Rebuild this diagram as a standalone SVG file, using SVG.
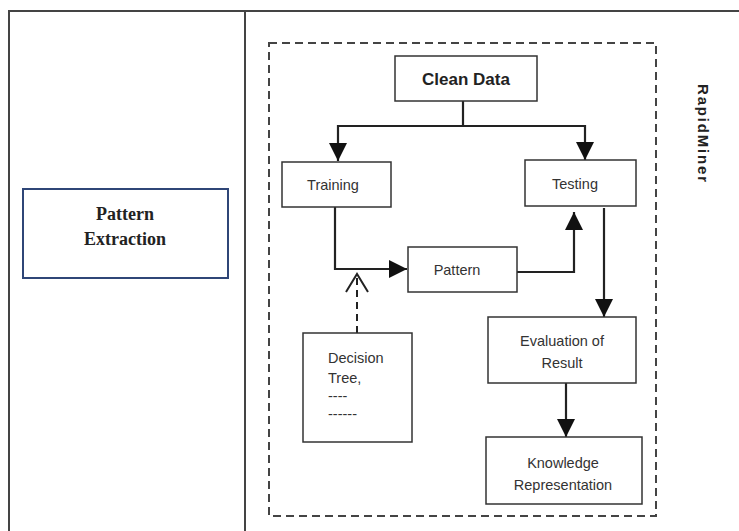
<svg xmlns="http://www.w3.org/2000/svg" width="739" height="531" viewBox="0 0 739 531">
<style>
.frame{stroke:#444;stroke-width:2;fill:none}
.box{fill:#fff;stroke:#333;stroke-width:1.5}
.conn{fill:none;stroke:#222;stroke-width:2.2}
.t{font-family:"Liberation Sans",Arial,sans-serif;font-size:14.5px;fill:#333;text-anchor:middle}
.ts{font-family:"Liberation Sans",Arial,sans-serif;font-size:14.5px;fill:#333}
</style>
<defs>
<marker id="ah" markerUnits="userSpaceOnUse" markerWidth="20" markerHeight="20" refX="18" refY="9" orient="auto">
<path d="M0,0 L18,9 L0,18 Z" fill="#111"/>
</marker>
</defs>
<rect width="739" height="531" fill="#fff"/>
<g id="frame">
<path class="frame" d="M9,531 V11 H739 M245,11 V531"/>
</g>
<g id="pattern-extraction">
<rect x="23" y="189" width="205" height="89" fill="#fff" stroke="#2f4677" stroke-width="2"/>
<text x="125" y="220" font-family="'Liberation Serif','Times New Roman',serif" font-size="18" font-weight="bold" text-anchor="middle" fill="#222">Pattern</text>
<text x="125" y="245" font-family="'Liberation Serif','Times New Roman',serif" font-size="18" font-weight="bold" text-anchor="middle" fill="#222">Extraction</text>
</g>
<g id="rapidminer">
<rect x="269" y="43" width="387" height="473" fill="none" stroke="#444" stroke-width="2" stroke-dasharray="8,5"/>
<text transform="translate(698,133) rotate(90)" font-family="'Liberation Sans',Arial,sans-serif" font-size="15" font-weight="bold" text-anchor="middle" fill="#222" textLength="98" lengthAdjust="spacing">RapidMiner</text>
</g>
<g id="connectors">
<path class="conn" d="M463,101 V126 H338 V161" marker-end="url(#ah)"/>
<path class="conn" d="M463,126 H585 V160" marker-end="url(#ah)"/>
<path class="conn" d="M335,207 V269 H407" marker-end="url(#ah)"/>
<path class="conn" d="M517,272 H574 V212" marker-end="url(#ah)"/>
<path class="conn" d="M604,208 V317" marker-end="url(#ah)"/>
<path class="conn" d="M566,383 V437" marker-end="url(#ah)"/>
<path d="M357,333 V277" fill="none" stroke="#222" stroke-width="2" stroke-dasharray="7,5"/>
<path d="M346,292 L357,274 L368,292" fill="none" stroke="#222" stroke-width="2"/>
</g>
<g id="clean-data">
<rect class="box" x="395" y="56" width="142" height="45"/>
<text x="466" y="85" font-family="'Liberation Sans',Arial,sans-serif" font-size="17" font-weight="bold" text-anchor="middle" fill="#222">Clean Data</text>
</g>
<g id="training">
<rect class="box" x="282" y="162" width="109" height="45"/>
<text class="t" x="333" y="190">Training</text>
</g>
<g id="testing">
<rect class="box" x="525" y="160" width="111" height="46"/>
<text class="t" x="575" y="189">Testing</text>
</g>
<g id="pattern">
<rect class="box" x="408" y="247" width="109" height="45"/>
<text class="t" x="457" y="275">Pattern</text>
</g>
<g id="decision-tree">
<rect class="box" x="303" y="333" width="109" height="109"/>
<text class="ts" x="328" y="363">Decision</text>
<text class="ts" x="328" y="383">Tree,</text>
<text class="ts" x="328" y="401">----</text>
<text class="ts" x="328" y="419">------</text>
</g>
<g id="evaluation">
<rect class="box" x="488" y="317" width="148" height="66"/>
<text class="t" x="562" y="346">Evaluation of</text>
<text class="t" x="562" y="368">Result</text>
</g>
<g id="knowledge">
<rect class="box" x="486" y="437" width="156" height="67"/>
<text class="t" x="563" y="468">Knowledge</text>
<text class="t" x="563" y="490">Representation</text>
</g>
</svg>
